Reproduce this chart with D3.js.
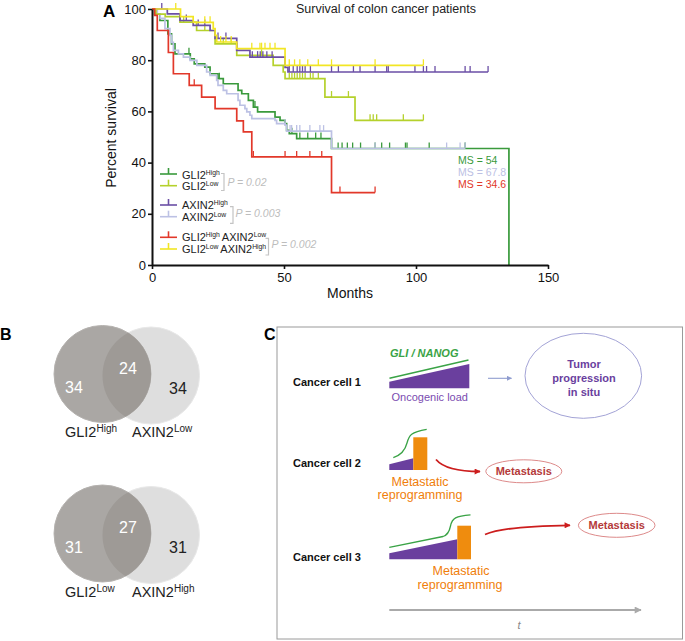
<!DOCTYPE html>
<html><head><meta charset="utf-8">
<script src="https://cdn.jsdelivr.net/npm/d3@7"></script>
<style>
html,body{margin:0;padding:0;background:#fff;}
svg text{font-family:"Liberation Sans",Arial,Helvetica,sans-serif;}
</style></head>
<body>
<svg id="fig" width="685" height="641"></svg>
<script>
// ---------- Panel A data (Kaplan–Meier steps) ----------
const gli2HighT = [0, 1, 3, 6, 7.4, 8.7, 14.5, 16, 20, 22, 25, 27, 32.6, 34, 36.5, 38.4, 40, 46.6, 48.5, 50.4, 51, 52, 54.8, 68, 135.2];
const gli2HighS = [100, 98, 95.5, 90.3, 86.4, 82.5, 80.5, 78.6, 77.3, 74.7, 72.8, 70.8, 68.2, 66.9, 64.3, 61.7, 59.8, 57.8, 56.5, 55.2, 52.6, 51.3, 49.4, 45.5, 0];
const gli2HighCens = [14, 25.5, 39, 53, 56, 59, 62, 64, 70.5, 72, 74, 76, 79, 84.5, 87, 90, 96, 96.6, 105, 118.6];
const gli2HighEnd = 135.2;

const axin2LowT = [0, 2, 3.1, 4.9, 6.8, 7.4, 8.1, 10, 11.9, 14.4, 17, 20.7, 22, 24.5, 25, 27, 28.3, 32.6, 33.3, 35.2, 35.9, 37.1, 37.8, 46.6, 47.2, 50.4, 51, 68];
const axin2LowS = [100, 98, 96.3, 92.3, 89.7, 87, 83.8, 82.5, 81.2, 79.9, 78, 75.4, 74.1, 72.1, 70.2, 68.2, 66.9, 64.3, 62.4, 61.1, 59.8, 58.5, 57.2, 56.5, 55.2, 54.6, 52.3, 45.5];
const axin2LowCens = [50.4, 52.3, 52.9, 54.8, 56, 59.8, 63.6, 65, 84.5, 111.6, 116.7, 118.6];
const axin2LowEnd = 118.6;

const gli2LowT = [0, 1.5, 5, 10.6, 16.9, 23.9, 32.1, 45.9, 49.7, 50.4, 65.5, 76.9];
const gli2LowS = [100, 98, 97, 94.9, 91.6, 86.4, 81.9, 78, 75.4, 72.8, 65.6, 56.5];
const gli2LowCens = [12, 20, 27, 30, 41.5, 52, 53, 54, 55, 56, 57, 58, 60, 61, 63, 68, 74.4, 82.6, 83.8, 85.1, 95.2, 102.8];
const gli2LowEnd = 102.8;

const axin2HighT = [0, 5.8, 10.6, 15.6, 22, 23.9, 32.1, 37.1, 50.4, 51.5];
const axin2HighS = [100, 98.1, 95.5, 93.6, 91.6, 88.5, 83.8, 81.2, 77.2, 75.4];
const axin2HighCens = [3.7, 13, 17.5, 20, 25, 28, 38, 40, 41, 42, 43.5, 45.5, 52, 53.5, 55, 56, 57, 58, 60, 68, 70.6, 76.3, 78.8, 84.5, 88.9, 89.5, 99.6, 102.8, 104, 107.2, 118.6, 120.5, 127.3];
const axin2HighEnd = 127.3;

const lowHighT = [0, 10.8, 15.6, 23.2, 23.9, 24.5, 32.1, 50.4];
const lowHighS = [100, 97, 94.8, 92.3, 89.7, 87.1, 84.5, 78];
const lowHighCens = [9, 20, 22, 26, 28, 30, 37.8, 40.9, 41.5, 42.8, 44.7, 46.6, 52, 54, 56, 59, 63, 68, 84.5, 102.8];
const lowHighEnd = 102.8;

const highLowT = [0, 1, 2, 6.2, 8.1, 14.1, 18.8, 23.9, 32.1, 34.6, 37.8, 68];
const highLowS = [100, 97.5, 91.6, 83, 74.7, 70.2, 65.6, 61.1, 56.3, 52, 42.2, 28.3];
const highLowCens = [16, 38.4, 50.4, 54.8, 59.8, 64.3, 71.2, 84.5];
const highLowEnd = 84.5;

const xTicks = [0, 50, 100, 150];
const yTicks = [0, 20, 40, 60, 80, 100];
const msLabels = ["MS = 54", "MS = 67.8", "MS = 34.6"];
const pLabels = ["P = 0.02", "P = 0.003", "P = 0.002"];

// ---------- Panel B data ----------
const venn1Names = ["GLI2", "AXIN2"], venn1Sup = ["High", "Low"], venn1Counts = [34, 24, 34];
const venn2Names = ["GLI2", "AXIN2"], venn2Sup = ["Low", "High"], venn2Counts = [31, 27, 31];

// ---------- Panel C texts ----------
const cellLabels = ["Cancer cell 1", "Cancer cell 2", "Cancer cell 3"];

const svg = d3.select("#fig");
const FONT = '"Liberation Sans",Arial,Helvetica,sans-serif';

// ======================= Panel A =======================
const x = d3.scaleLinear().domain([0, 150]).range([152, 548]);
const y = d3.scaleLinear().domain([0, 100]).range([265, 9]);

const series = [
  {T: gli2HighT, S: gli2HighS, C: gli2HighCens, end: gli2HighEnd, color: "#3a9a3c"},
  {T: axin2LowT, S: axin2LowS, C: axin2LowCens, end: axin2LowEnd, color: "#bcc1e4"},
  {T: gli2LowT, S: gli2LowS, C: gli2LowCens, end: gli2LowEnd, color: "#b5d12c"},
  {T: axin2HighT, S: axin2HighS, C: axin2HighCens, end: axin2HighEnd, color: "#6b4fa6"},
  {T: lowHighT, S: lowHighS, C: lowHighCens, end: lowHighEnd, color: "#f2e624"},
  {T: highLowT, S: highLowS, C: highLowCens, end: highLowEnd, color: "#e2382a"}
];

const line = d3.line().x(d => x(d[0])).y(d => y(d[1])).curve(d3.curveStepAfter);
function survAt(s, t) {
  let v = s.S[0];
  for (let i = 0; i < s.T.length; i++) if (s.T[i] <= t) v = s.S[i];
  return v;
}
const gA = svg.append("g");
series.forEach(s => {
  const pts = s.T.map((t, i) => [t, s.S[i]]);
  pts.push([s.end, s.S[s.S.length - 1]]);
  gA.append("path").attr("d", line(pts)).attr("fill", "none")
    .attr("stroke", s.color).attr("stroke-width", 1.7);
  gA.selectAll(null).data(s.C).enter().append("line")
    .attr("x1", d => x(d)).attr("x2", d => x(d))
    .attr("y1", d => y(survAt(s, d))).attr("y2", d => y(survAt(s, d)) - 6)
    .attr("stroke", s.color).attr("stroke-width", 1.3);
});

// axes
const yAxis = svg.append("g").attr("transform", "translate(152,0)")
  .call(d3.axisLeft(y).tickValues(yTicks).tickSize(4).tickSizeOuter(0).tickPadding(2));
const xAxis = svg.append("g").attr("transform", "translate(0,265)")
  .call(d3.axisBottom(x).tickValues(xTicks).tickSize(4).tickSizeOuter(0).tickPadding(4));
[yAxis, xAxis].forEach(a => {
  a.select(".domain").attr("stroke", "#111").attr("stroke-width", 2);
  a.selectAll(".tick line").attr("stroke", "#111").attr("stroke-width", 1.6);
  a.selectAll(".tick text").attr("font-size", 13).attr("font-family", FONT).attr("fill", "#111");
});

svg.append("text").attr("x", 103).attr("y", 17).attr("font-size", 17).attr("font-weight", "bold").text("A");
svg.append("text").attr("x", 386).attr("y", 13).attr("text-anchor", "middle").attr("font-size", 12.5).attr("fill", "#222")
  .text("Survival of colon cancer patients");
svg.append("text").attr("transform", "translate(116,138) rotate(-90)").attr("text-anchor", "middle")
  .attr("font-size", 14).attr("fill", "#111").text("Percent survival");
svg.append("text").attr("x", 350).attr("y", 298).attr("text-anchor", "middle").attr("font-size", 14).attr("fill", "#111").text("Months");

// MS labels
const msColors = ["#3a9a3c", "#bcc1e4", "#e2382a"];
msLabels.forEach((t, i) => {
  svg.append("text").attr("x", 458).attr("y", 164 + i * 12).attr("font-size", 10.5).attr("fill", msColors[i]).text(t);
});

// legend
const legendItems = [
  {name: "GLI2", sup: "High", color: "#3a9a3c", ly: 174, ty: 178.5},
  {name: "GLI2", sup: "Low", color: "#b5d12c", ly: 185.7, ty: 189.5},
  {name: "AXIN2", sup: "High", color: "#6b4fa6", ly: 205, ty: 209.3},
  {name: "AXIN2", sup: "Low", color: "#bcc1e4", ly: 216.7, ty: 220.7},
  {name: "GLI2", sup: "High", name2: "AXIN2", sup2: "Low", color: "#e2382a", ly: 237.3, ty: 241},
  {name: "GLI2", sup: "Low", name2: "AXIN2", sup2: "High", color: "#f2e624", ly: 249, ty: 252.7}
];
legendItems.forEach(d => {
  svg.append("line").attr("x1", 160).attr("x2", 177).attr("y1", d.ly).attr("y2", d.ly).attr("stroke", d.color).attr("stroke-width", 1.6);
  svg.append("line").attr("x1", 168.5).attr("x2", 168.5).attr("y1", d.ly).attr("y2", d.ly - 6).attr("stroke", d.color).attr("stroke-width", 1.6);
  const t = svg.append("text").attr("x", 182).attr("y", d.ty).attr("font-size", 11).attr("fill", "#222");
  t.append("tspan").text(d.name);
  t.append("tspan").attr("font-size", 6.8).attr("dy", -4).text(d.sup);
  if (d.name2) {
    t.append("tspan").attr("dy", 4).attr("dx", 2).text(d.name2);
    t.append("tspan").attr("font-size", 6.8).attr("dy", -4).text(d.sup2);
  }
});
// p-value brackets
const brackets = [
  {x: 224, y1: 173.5, y2: 190.5, tx: 227.5, ty: 185.5},
  {x: 233, y1: 206.7, y2: 223.3, tx: 235.5, ty: 217},
  {x: 268.5, y1: 238.3, y2: 255, tx: 271.5, ty: 248}
];
brackets.forEach((b, i) => {
  svg.append("path").attr("d", `M${b.x - 3},${b.y1}H${b.x}V${b.y2}H${b.x - 3}`)
    .attr("fill", "none").attr("stroke", "#c4c4c4").attr("stroke-width", 1.2);
  svg.append("text").attr("x", b.tx).attr("y", b.ty).attr("font-size", 10.5).attr("font-style", "italic")
    .attr("fill", "#bdbdbd").text(pLabels[i]);
});

// ======================= Panel B =======================
svg.append("text").attr("x", 0).attr("y", 340).attr("font-size", 16).attr("font-weight", "bold").text("B");
const defs = svg.append("defs");
function venn(id, cy, names, sups, counts) {
  const lx = 102.5, rx = 151, r = 48.5;
  defs.append("clipPath").attr("id", id).append("circle").attr("cx", lx).attr("cy", cy).attr("r", r);
  svg.append("circle").attr("cx", rx).attr("cy", cy + 1.5).attr("r", r).attr("fill", "#dedede").attr("stroke", "#e8e8e8");
  svg.append("circle").attr("cx", lx).attr("cy", cy).attr("r", r).attr("fill", "#aaa7a4").attr("stroke", "#b5b2af");
  svg.append("circle").attr("cx", rx).attr("cy", cy + 1.5).attr("r", r).attr("fill", "#9e9a96").attr("clip-path", `url(#${id})`);
  svg.append("text").attr("x", 74).attr("y", cy + 19).attr("text-anchor", "middle").attr("font-size", 16).attr("fill", "#fff").text(counts[0]);
  svg.append("text").attr("x", 128).attr("y", cy - 0.5).attr("text-anchor", "middle").attr("font-size", 16).attr("fill", "#fff").text(counts[1]);
  svg.append("text").attr("x", 178).attr("y", cy + 19.5).attr("text-anchor", "middle").attr("font-size", 16).attr("fill", "#222").text(counts[2]);
  const l1 = svg.append("text").attr("x", 65).attr("y", cy + 63).attr("font-size", 14.5).attr("fill", "#222");
  l1.append("tspan").text(names[0]); l1.append("tspan").attr("font-size", 10).attr("dy", -5).text(sups[0]);
  const l2 = svg.append("text").attr("x", 132).attr("y", cy + 63).attr("font-size", 14.5).attr("fill", "#222");
  l2.append("tspan").text(names[1]); l2.append("tspan").attr("font-size", 10).attr("dy", -5).text(sups[1]);
}
venn("vc1", 374, venn1Names, venn1Sup, venn1Counts);
venn("vc2", 533.5, venn2Names, venn2Sup, venn2Counts);

// ======================= Panel C =======================
svg.append("text").attr("x", 264).attr("y", 340).attr("font-size", 16).attr("font-weight", "bold").text("C");
svg.append("rect").attr("x", 277).attr("y", 327).attr("width", 405.5).attr("height", 312).attr("fill", "none").attr("stroke", "#9a9a9a").attr("stroke-width", 1);

const mk = (id, color, w, h) => {
  defs.append("marker").attr("id", id).attr("viewBox", "0 0 10 10").attr("refX", 9).attr("refY", 5)
    .attr("markerWidth", w).attr("markerHeight", h).attr("orient", "auto").attr("markerUnits", "userSpaceOnUse")
    .append("path").attr("d", "M0,0L10,5L0,10z").attr("fill", color);
};
mk("arrRed", "#cc1d1d", 8, 6);
mk("arrGray", "#aaaaaa", 9, 7);
mk("arrBlue", "#8f9ccf", 7, 5);

const purple = "#6a3f9e", orange = "#ef8c0e", green = "#3aa346";
// cell labels
[385.5, 467, 560.5].forEach((yy, i) => {
  svg.append("text").attr("x", 293).attr("y", yy).attr("font-size", 11).attr("font-weight", "bold").attr("fill", "#111").text(cellLabels[i]);
});
// cell 1
svg.append("text").attr("x", 390).attr("y", 356.5).attr("font-size", 11).attr("font-weight", "bold").attr("font-style", "italic").attr("fill", green).text("GLI / NANOG");
svg.append("line").attr("x1", 389.5).attr("y1", 378.3).attr("x2", 468.5).attr("y2", 360).attr("stroke", green).attr("stroke-width", 1.4);
svg.append("polygon").attr("points", "389.3,388.3 389.3,381.7 469.3,364 469.3,388.3").attr("fill", purple);
svg.append("text").attr("x", 391.5).attr("y", 401.3).attr("font-size", 11).attr("fill", "#7a4cb0").text("Oncogenic load");
svg.append("line").attr("x1", 488).attr("y1", 378.3).attr("x2", 511.5).attr("y2", 378.3).attr("stroke", "#8f9ccf").attr("stroke-width", 1.1).attr("marker-end", "url(#arrBlue)");
svg.append("ellipse").attr("cx", 583.3).attr("cy", 375.8).attr("rx", 58.3).attr("ry", 42.5).attr("fill", "none").attr("stroke", "#a3a3d6").attr("stroke-width", 1);
["Tumor", "progression", "in situ"].forEach((t, i) => {
  svg.append("text").attr("x", 584).attr("y", 368 + i * 14).attr("text-anchor", "middle").attr("font-size", 11).attr("font-weight", "bold").attr("fill", purple).text(t);
});
// cell 2
svg.append("polygon").attr("points", "389.3,470 389.3,464.3 413.3,458.3 413.3,470").attr("fill", purple);
svg.append("rect").attr("x", 413.3).attr("y", 437.3).attr("width", 14).attr("height", 32.7).attr("fill", orange);
svg.append("path").attr("d", "M393.3,457.7 C401,455 405,451 407,443 C409,435 411,432 426.7,429.3").attr("fill", "none").attr("stroke", green).attr("stroke-width", 1.3);
svg.append("text").attr("x", 420).attr("y", 485.5).attr("text-anchor", "middle").attr("font-size", 12.5).attr("fill", "#f07e0a").text("Metastatic");
svg.append("text").attr("x", 420).attr("y", 499).attr("text-anchor", "middle").attr("font-size", 12.5).attr("fill", "#f07e0a").text("reprogramming");
svg.append("path").attr("d", "M436,459.5 Q446,471.5 480,471.5").attr("fill", "none").attr("stroke", "#cc1d1d").attr("stroke-width", 1.8).attr("marker-end", "url(#arrRed)");
svg.append("ellipse").attr("cx", 523.8).attr("cy", 471.3).attr("rx", 38).attr("ry", 11.5).attr("fill", "none").attr("stroke", "#dd8a8a").attr("stroke-width", 1);
svg.append("text").attr("x", 523.8).attr("y", 475.3).attr("text-anchor", "middle").attr("font-size", 11).attr("font-weight", "bold").attr("fill", "#b43a3a").text("Metastasis");
// cell 3
svg.append("polygon").attr("points", "389.3,559.3 389.3,553.3 457.3,539.3 457.3,559.3").attr("fill", purple);
svg.append("rect").attr("x", 457.3).attr("y", 525.7).attr("width", 13.7).attr("height", 33.6).attr("fill", orange);
svg.append("path").attr("d", "M389.3,547.3 L443,536.5 C448,535 449.5,531 450.5,526 C452,518 456,516 470.5,514.8").attr("fill", "none").attr("stroke", green).attr("stroke-width", 1.3);
svg.append("text").attr("x", 461).attr("y", 574.5).attr("text-anchor", "middle").attr("font-size", 12.5).attr("fill", "#f07e0a").text("Metastatic");
svg.append("text").attr("x", 460).attr("y", 589).attr("text-anchor", "middle").attr("font-size", 12.5).attr("fill", "#f07e0a").text("reprogramming");
svg.append("path").attr("d", "M485,534.5 Q505,526 570,525.3").attr("fill", "none").attr("stroke", "#cc1d1d").attr("stroke-width", 1.8).attr("marker-end", "url(#arrRed)");
svg.append("ellipse").attr("cx", 616.7).attr("cy", 525.3).attr("rx", 38.3).attr("ry", 12).attr("fill", "none").attr("stroke", "#dd8a8a").attr("stroke-width", 1);
svg.append("text").attr("x", 616.7).attr("y", 529.3).attr("text-anchor", "middle").attr("font-size", 11).attr("font-weight", "bold").attr("fill", "#b43a3a").text("Metastasis");
// time axis
svg.append("line").attr("x1", 389.3).attr("y1", 610).attr("x2", 641).attr("y2", 610).attr("stroke", "#aaaaaa").attr("stroke-width", 2).attr("marker-end", "url(#arrGray)");
svg.append("text").attr("x", 519).attr("y", 629).attr("text-anchor", "middle").attr("font-size", 11).attr("font-style", "italic").attr("fill", "#888").text("t");
</script>
</body></html>
